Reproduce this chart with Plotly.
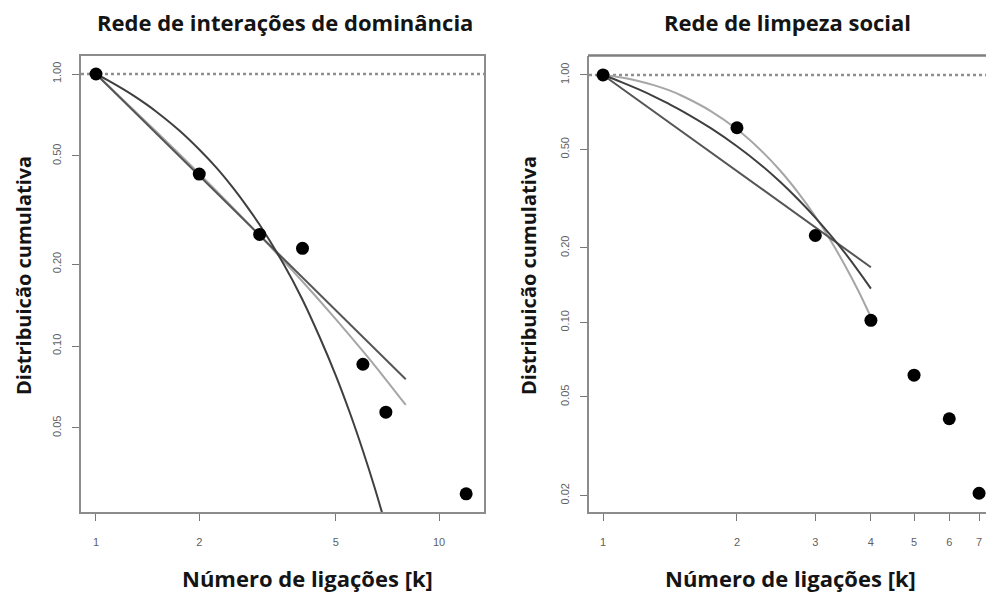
import plotly.graph_objects as go

# ---------------- data ----------------
# Left panel: "Rede de interações de dominância"
dom_k = [1, 2, 3, 4, 6, 7, 12]
dom_p = [1.0, 0.4286, 0.2571, 0.2286, 0.0857, 0.0571, 0.0286]

dom_exp_x = [1, 1.1, 1.2, 1.3, 1.4, 1.5, 1.75, 2, 2.25, 2.5, 2.75, 3, 3.5, 4, 4.5, 5, 5.5, 6, 6.5, 7]
dom_exp = [1.0, 0.938, 0.880, 0.826, 0.775, 0.727, 0.620, 0.528, 0.451, 0.384, 0.327, 0.279,
           0.203, 0.148, 0.107, 0.078, 0.0567, 0.0412, 0.030, 0.0218]
dom_pow_x = [1, 2, 3, 4, 5, 6, 7, 8]
dom_pow = [1.0, 0.423, 0.256, 0.179, 0.136, 0.108, 0.0892, 0.0755]
dom_cut_x = [1, 1.5, 2, 3, 4, 5, 6, 7, 8]
dom_cut = [1.0, 0.613, 0.430, 0.255, 0.1726, 0.1256, 0.0957, 0.0753, 0.0607]

# Right panel: "Rede de limpeza social"
lim_k = [1, 2, 3, 4, 5, 6, 7]
lim_p = [1.0, 0.612, 0.2245, 0.102, 0.0612, 0.0408, 0.0204]

lim_exp_x = [1, 1.1, 1.2, 1.3, 1.4, 1.5, 1.75, 2, 2.25, 2.5, 2.75, 3, 3.5, 4]
lim_exp = [1.0, 0.936, 0.876, 0.820, 0.767, 0.718, 0.608, 0.515, 0.437, 0.370, 0.313, 0.265, 0.1905, 0.137]
lim_pow_x = [1, 2, 3, 4]
lim_pow = [1.0, 0.408, 0.242, 0.167]
lim_cut_x = [1, 1.1, 1.2, 1.3, 1.4, 1.5, 1.75, 2, 2.25, 2.5, 2.75, 3, 3.25, 3.5, 3.75, 4]
lim_cut = [1.0, 0.977, 0.946, 0.910, 0.870, 0.826, 0.713, 0.603, 0.501, 0.411, 0.333, 0.268,
           0.214, 0.1695, 0.134, 0.105]

titles = ["Rede de interações de dominância", "Rede de limpeza social"]
xlabel = "Número de ligações [k]"
ylabel = "Distribuicão cumulativa"
left_xticks = [1, 2, 5, 10]
right_xticks = [1, 2, 3, 4, 5, 6, 7]
left_yticks = [0.05, 0.10, 0.20, 0.50, 1.00]
right_yticks = [0.02, 0.05, 0.10, 0.20, 0.50, 1.00]

# ---------------- layout geometry ----------------
W, H = 986, 601
def px(x):
    return x / W
def py(y):
    return 1 - y / H

C_EXP = "#3f3f3f"
C_POW = "#555555"
C_CUT = "#a6a6a6"
C_AX = "#8c8c8c"
TICKFONT = dict(family="Liberation Sans, Arial", size=11, color="#5f5f5f")
BOLD = "Open Sans, Lato, sans-serif"

fig = go.Figure()

def add_panel(xa, ya, k, p, fits):
    for fx, fy, col, w, shp in fits:
        fig.add_trace(go.Scatter(x=fx, y=fy, mode="lines", line=dict(color=col, width=w, shape=shp),
                                 xaxis=xa, yaxis=ya, showlegend=False, hoverinfo="skip"))
    fig.add_trace(go.Scatter(x=k, y=p, mode="markers", marker=dict(color="black", size=13),
                             xaxis=xa, yaxis=ya, showlegend=False))

add_panel("x", "y", dom_k, dom_p, [
    (dom_cut_x, dom_cut, C_CUT, 2, "spline"),
    (dom_pow_x, dom_pow, C_POW, 2, "linear"),
    (dom_exp_x, dom_exp, C_EXP, 2, "spline"),
])
add_panel("x2", "y2", lim_k, lim_p, [
    (lim_cut_x, lim_cut, C_CUT, 2, "spline"),
    (lim_pow_x, lim_pow, C_POW, 2, "linear"),
    (lim_exp_x, lim_exp, C_EXP, 2, "spline"),
])

ax_common = dict(type="log", showgrid=False, zeroline=False, showline=True, linecolor=C_AX, linewidth=2,
                 ticks="outside", ticklen=7, tickwidth=1, tickcolor="#777777", tickfont=TICKFONT)

fig.update_layout(
    width=W, height=H, margin=dict(l=0, r=0, t=0, b=0),
    paper_bgcolor="white", plot_bgcolor="white", showlegend=False,
    xaxis=dict(**ax_common, domain=[px(81), px(484)], range=[-0.0437, 1.1312], anchor="y", mirror=True,
               tickvals=left_xticks, ticktext=[str(v) for v in left_xticks], ticklabelstandoff=12),
    yaxis=dict(**ax_common, domain=[py(512), py(56)], range=[-1.6103, 0.0662], anchor="x", mirror=True,
               tickvals=left_yticks, ticktext=[f"{v:.2f}" for v in left_yticks], tickangle=-90, ticklabelstandoff=7),
    xaxis2=dict(**ax_common, domain=[px(589), 1.0], range=[-0.0315, 0.8607], anchor="y2", mirror=False,
                tickvals=right_xticks, ticktext=[str(v) for v in right_xticks], ticklabelstandoff=12),
    yaxis2=dict(**ax_common, domain=[py(512), py(56)], range=[-1.7661, 0.0766], anchor="x2", mirror=False,
                tickvals=right_yticks, ticktext=[f"{v:.2f}" for v in right_yticks], tickangle=-90, ticklabelstandoff=7),
)

# top border of right panel (its right side lies outside the picture)
fig.add_shape(type="line", xref="paper", yref="paper", x0=px(588), x1=1.0, y0=py(55.5), y1=py(55.5),
              line=dict(color="#7f7f7f", width=2.5), layer="above")

# dotted reference line at cumulative = 1
for xr, yr in [("x domain", "y"), ("x2 domain", "y2")]:
    fig.add_shape(type="line", xref=xr, yref=yr, x0=0, x1=1, y0=1, y1=1,
                  line=dict(color="#8f8f8f", width=2.5, dash="dot"), layer="below")

# titles and axis labels
ann = []
for cx, t in [(285, titles[0]), (787, titles[1])]:
    ann.append(dict(x=px(cx), y=py(22), xref="paper", yref="paper", text=f"<b>{t}</b>", showarrow=False,
                    font=dict(family=BOLD, size=22, color="#141414"), xanchor="center", yanchor="middle"))
for cx in [307, 790]:
    ann.append(dict(x=px(cx), y=py(578), xref="paper", yref="paper", text=f"<b>{xlabel}</b>", showarrow=False,
                    font=dict(family=BOLD, size=22, color="#141414"), xanchor="center", yanchor="middle"))
for cx in [23, 528]:
    ann.append(dict(x=px(cx), y=py(276), xref="paper", yref="paper", text=f"<b>{ylabel}</b>", showarrow=False,
                    textangle=-90, font=dict(family=BOLD, size=20, color="#141414"), xanchor="center", yanchor="middle"))
fig.update_layout(annotations=ann)

fig.write_html("out.html")
